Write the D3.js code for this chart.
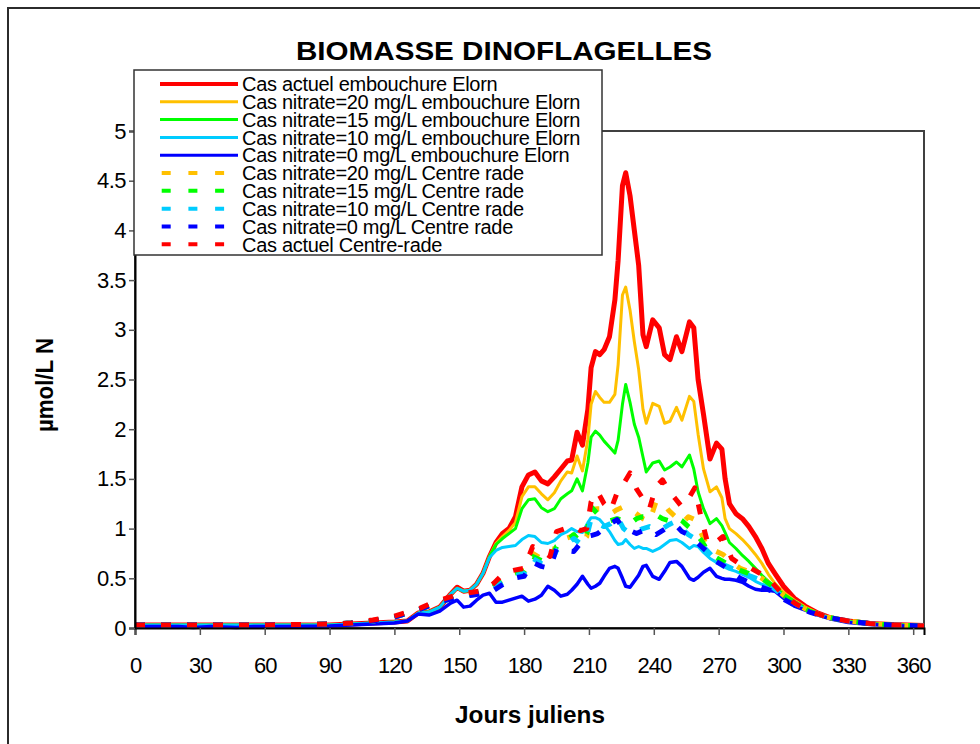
<!DOCTYPE html>
<html>
<head>
<meta charset="utf-8">
<script src="https://cdn.jsdelivr.net/npm/d3@7"></script>
<style>
    body { margin: 0; background: #ffffff; }
    svg { display: block; font-family: Arial, "Liberation Sans", sans-serif; }
</style>
</head>
<body>
<div id="chart-div"></div>
<script>
//---------------------------------//
// Data     //
//---------------------------------//

var days = [0, 20, 27, 35, 47, 55, 70, 90, 100, 110, 120, 126, 131, 136, 141, 146, 149, 152, 155, 158,
            161, 164, 167, 170, 173, 176, 179, 182, 185, 188, 191, 194, 197, 200, 202, 204.5, 207, 209.5, 211, 213,
            215, 217, 219.5, 222, 223.5, 225.5, 227, 229, 231, 233, 235, 236.5, 239.5, 242.5, 245, 247.5, 250.5, 253, 256.5, 258.5,
            260.5, 263, 266, 269, 271.5, 273, 275, 278, 281, 284, 287, 290, 293, 296, 300, 305, 310, 316, 322, 330,
            340, 350, 365];

var actuelElorn = [0.03, 0.03, 0.03, 0.03, 0.03, 0.03, 0.03, 0.03, 0.04, 0.05, 0.06, 0.07, 0.15, 0.16, 0.21, 0.34, 0.41, 0.37, 0.38, 0.44,
                   0.55, 0.72, 0.86, 0.95, 1.0, 1.12, 1.42, 1.54, 1.57, 1.48, 1.45, 1.52, 1.60, 1.68, 1.69, 1.97, 1.84, 2.2, 2.62, 2.78,
                   2.75, 2.80, 2.93, 3.30, 3.70, 4.45, 4.58, 4.35, 4.0, 3.65, 2.95, 2.83, 3.10, 3.02, 2.75, 2.70, 2.93, 2.78, 3.08, 3.02,
                   2.5, 2.15, 1.70, 1.86, 1.80, 1.50, 1.25, 1.15, 1.10, 1.02, 0.92, 0.80, 0.65, 0.55, 0.42, 0.30, 0.22, 0.15, 0.10, 0.07,
                   0.045, 0.035, 0.025];

var n20Elorn = [0.03, 0.03, 0.03, 0.03, 0.03, 0.03, 0.03, 0.03, 0.04, 0.05, 0.06, 0.07, 0.15, 0.16, 0.21, 0.34, 0.40, 0.37, 0.38, 0.44,
                0.55, 0.72, 0.85, 0.92, 0.98, 1.06, 1.32, 1.42, 1.42, 1.35, 1.29, 1.36, 1.48, 1.57, 1.56, 1.73, 1.58, 1.90, 2.25, 2.38,
                2.32, 2.27, 2.27, 2.35, 2.65, 3.35, 3.43, 3.2, 2.88, 2.6, 2.2, 2.06, 2.26, 2.23, 2.06, 2.08, 2.22, 2.09, 2.33, 2.28,
                1.95, 1.60, 1.37, 1.42, 1.31, 1.10, 1.0, 0.95, 0.89, 0.82, 0.74, 0.65, 0.54, 0.45, 0.36, 0.28, 0.21, 0.15, 0.10, 0.07,
                0.045, 0.035, 0.025];

var n15Elorn = [0.03, 0.03, 0.03, 0.03, 0.03, 0.03, 0.03, 0.03, 0.04, 0.05, 0.06, 0.07, 0.15, 0.16, 0.21, 0.34, 0.40, 0.37, 0.38, 0.44,
                0.55, 0.72, 0.84, 0.90, 0.95, 1.0, 1.20, 1.29, 1.30, 1.21, 1.17, 1.20, 1.30, 1.35, 1.38, 1.50, 1.38, 1.66, 1.92, 1.98,
                1.94, 1.88, 1.82, 1.76, 1.89, 2.25, 2.45, 2.27, 2.05, 1.92, 1.72, 1.57, 1.66, 1.68, 1.59, 1.62, 1.67, 1.62, 1.74, 1.60,
                1.37, 1.20, 1.05, 1.10, 1.03, 0.96, 0.86, 0.80, 0.73, 0.67, 0.60, 0.53, 0.47, 0.41, 0.34, 0.27, 0.20, 0.14, 0.10, 0.065,
                0.045, 0.035, 0.025];

var n10Elorn = [0.03, 0.03, 0.03, 0.03, 0.03, 0.03, 0.03, 0.03, 0.04, 0.05, 0.06, 0.07, 0.15, 0.16, 0.21, 0.34, 0.40, 0.37, 0.38, 0.44,
                0.55, 0.71, 0.78, 0.81, 0.82, 0.83, 0.89, 0.93, 0.92, 0.86, 0.85, 0.88, 0.94, 0.97, 1.0, 0.97, 0.96, 1.06, 1.11, 1.11,
                1.09, 1.04, 0.97, 0.88, 0.84, 0.85, 0.89, 0.84, 0.80, 0.82, 0.80, 0.80, 0.77, 0.80, 0.84, 0.88, 0.89, 0.86, 0.80, 0.83,
                0.82, 0.76, 0.70, 0.66, 0.62, 0.61, 0.59, 0.57, 0.54, 0.51, 0.47, 0.44, 0.42, 0.39, 0.32, 0.25, 0.19, 0.14, 0.095, 0.06,
                0.04, 0.03, 0.02];

var n0Elorn = [0.015, 0.015, 0.005, 0.015, 0.005, 0.015, 0.015, 0.02, 0.03, 0.04, 0.05, 0.07, 0.14, 0.13, 0.17, 0.25, 0.28, 0.21, 0.22, 0.28,
               0.33, 0.35, 0.26, 0.26, 0.28, 0.30, 0.32, 0.27, 0.29, 0.33, 0.42, 0.38, 0.32, 0.34, 0.38, 0.44, 0.52, 0.44, 0.40, 0.42,
               0.45, 0.52, 0.60, 0.62, 0.60, 0.50, 0.42, 0.41, 0.47, 0.53, 0.62, 0.63, 0.52, 0.49, 0.57, 0.66, 0.67, 0.62, 0.50, 0.48,
               0.51, 0.56, 0.60, 0.52, 0.50, 0.49, 0.49, 0.48, 0.46, 0.42, 0.39, 0.38, 0.38, 0.37, 0.30, 0.22, 0.18, 0.13, 0.09, 0.055,
               0.035, 0.025, 0.015];

var daysRade = [0, 15, 30, 45, 60, 75, 90, 100, 110, 115, 120, 126, 132, 138, 144, 150, 156, 162, 166, 171,
                175, 180, 184, 188, 192, 195, 199, 203, 206, 209, 211, 214, 217, 220, 223, 226, 229, 232, 235, 238,
                241, 244, 247, 250, 253, 256, 259, 262, 265, 268, 272, 276, 280, 285, 290, 295, 300, 306, 312, 320,
                330, 340, 350, 365];

var n20Rade = [0.03, 0.03, 0.03, 0.03, 0.03, 0.035, 0.04, 0.05, 0.07, 0.09, 0.11, 0.15, 0.19, 0.24, 0.29, 0.33, 0.35, 0.37, 0.42, 0.52,
               0.56, 0.58, 0.75, 0.70, 0.68, 0.85, 0.90, 0.93, 0.85, 0.92, 1.19, 1.20, 1.20, 1.15, 1.19, 1.22, 1.20, 1.15, 1.10, 1.07,
               1.27, 1.27, 1.18, 1.12, 1.05, 1.12, 1.09, 0.95, 0.80, 0.78, 0.74, 0.66, 0.60, 0.56, 0.50, 0.43, 0.33, 0.24, 0.17, 0.11,
               0.07, 0.045, 0.03, 0.02];

var n15Rade = [0.03, 0.03, 0.03, 0.03, 0.03, 0.035, 0.04, 0.05, 0.07, 0.09, 0.11, 0.15, 0.19, 0.24, 0.28, 0.32, 0.34, 0.36, 0.42, 0.50,
               0.55, 0.57, 0.72, 0.68, 0.66, 0.82, 0.87, 0.94, 0.86, 0.95, 1.22, 1.15, 1.10, 1.08, 1.10, 1.08, 1.05, 1.10, 1.12, 1.12,
               1.14, 1.10, 1.08, 1.12, 1.08, 1.02, 0.97, 0.88, 0.78, 0.72, 0.67, 0.62, 0.58, 0.54, 0.50, 0.42, 0.33, 0.24, 0.17, 0.11,
               0.07, 0.045, 0.03, 0.02];

var n10Rade = [0.03, 0.03, 0.03, 0.03, 0.03, 0.035, 0.04, 0.05, 0.07, 0.09, 0.11, 0.15, 0.19, 0.24, 0.28, 0.32, 0.34, 0.36, 0.40, 0.47,
               0.52, 0.55, 0.70, 0.65, 0.63, 0.78, 0.83, 0.90, 0.85, 0.92, 1.10, 1.05, 1.02, 1.05, 1.12, 1.00, 0.95, 0.97, 1.00, 1.02,
               0.98, 1.00, 1.04, 1.07, 1.00, 0.94, 0.90, 0.84, 0.77, 0.70, 0.64, 0.60, 0.56, 0.52, 0.48, 0.41, 0.32, 0.24, 0.17, 0.11,
               0.07, 0.045, 0.03, 0.02];

var n0Rade = [0.03, 0.03, 0.03, 0.03, 0.03, 0.035, 0.04, 0.05, 0.07, 0.09, 0.11, 0.15, 0.19, 0.24, 0.28, 0.31, 0.33, 0.35, 0.38, 0.45,
              0.50, 0.52, 0.66, 0.62, 0.60, 0.80, 0.78, 0.77, 0.85, 0.92, 0.93, 0.95, 1.00, 1.05, 1.09, 1.00, 0.98, 0.95, 0.98, 0.99,
              0.94, 0.98, 1.02, 1.04, 0.97, 0.94, 0.88, 0.82, 0.76, 0.68, 0.63, 0.56, 0.50, 0.45, 0.41, 0.37, 0.29, 0.22, 0.16, 0.11,
              0.07, 0.045, 0.03, 0.02];

var actuelRade = [0.03, 0.03, 0.03, 0.03, 0.03, 0.035, 0.04, 0.05, 0.08, 0.10, 0.12, 0.16, 0.20, 0.26, 0.30, 0.34, 0.36, 0.38, 0.45, 0.56,
                  0.58, 0.60, 0.82, 0.78, 0.72, 0.97, 1.0, 1.02, 0.98, 1.0, 1.27, 1.37, 1.25, 1.18, 1.36, 1.45, 1.56, 1.40, 1.30, 1.20,
                  1.42, 1.49, 1.38, 1.30, 1.22, 1.30, 1.41, 1.10, 0.85, 0.85, 0.92, 0.70, 0.64, 0.60, 0.54, 0.45, 0.33, 0.24, 0.17, 0.11,
                  0.07, 0.045, 0.03, 0.02];

var seriesNames = ['Cas actuel embouchure Elorn',
                   'Cas nitrate=20 mg/L embouchure Elorn',
                   'Cas nitrate=15 mg/L embouchure Elorn',
                   'Cas nitrate=10 mg/L embouchure Elorn',
                   'Cas nitrate=0 mg/L embouchure Elorn',
                   'Cas nitrate=20 mg/L Centre rade',
                   'Cas nitrate=15 mg/L Centre rade',
                   'Cas nitrate=10 mg/L Centre rade',
                   'Cas nitrate=0 mg/L Centre rade',
                   'Cas actuel Centre-rade'];

var seriesValues = [actuelElorn, n20Elorn, n15Elorn, n10Elorn, n0Elorn,
                    n20Rade, n15Rade, n10Rade, n0Rade, actuelRade];

var xTicks = [0, 30, 60, 90, 120, 150, 180, 210, 240, 270, 300, 330, 360];
var yTicks = [0, 0.5, 1, 1.5, 2, 2.5, 3, 3.5, 4, 4.5, 5];

//---------------------------------//
// Chart object                    //
//---------------------------------//

window.Chart = window.Chart || {};

Chart.init = function() {
    Chart.setup.initConsts();
    Chart.setup.initSvg();
    Chart.setup.initScales();

    Chart.core.drawFrame();
    Chart.core.drawSeries();
    Chart.core.drawAxes();
    Chart.core.drawLegend();
    Chart.core.drawTitles();
};

Chart.setup = {
    initConsts: function() {
        Chart.width = 980;
        Chart.height = 744;

        Chart.plot = {left: 135, right: 924, top: 131, bottom: 628};    //Plot area box

        Chart.colors = ['#ff0000', '#ffc000', '#00ff00', '#00ccff', '#0000ff',
                        '#ffc000', '#00ff00', '#00ccff', '#0000ff', '#ff0000'];
        Chart.widths = [5, 3, 3, 3, 3.5, 5, 5, 5, 5, 5];
        Chart.dashed = [false, false, false, false, false, true, true, true, true, true];

        Chart.tickFont = 22;
        Chart.legendFont = 20;
    },

    initSvg: function() {
        Chart.svg = d3.select('#chart-div')
                      .append('svg')
                        .attr('width', Chart.width)
                        .attr('height', Chart.height);
    },

    initScales: function() {
        Chart.x = d3.scaleLinear()                      //Julian days
                    .domain([0, 365])
                    .range([Chart.plot.left, Chart.plot.right]);
        Chart.y = d3.scaleLinear()                      //umol/L N
                    .domain([0, 5])
                    .range([Chart.plot.bottom, Chart.plot.top]);
    }
};

Chart.core = {
    drawFrame: function() {
        // outer chart border (runs off the right and bottom of the picture)
        Chart.svg.append('path')
            .attr('d', 'M8,' + Chart.height + 'V8H' + Chart.width)
            .attr('fill', 'none')
            .attr('stroke', '#2b2b2b')
            .attr('stroke-width', 2);

        // plot area border
        Chart.svg.append('rect')
            .attr('x', Chart.plot.left).attr('y', Chart.plot.top)
            .attr('width', Chart.plot.right - Chart.plot.left)
            .attr('height', Chart.plot.bottom - Chart.plot.top)
            .attr('fill', 'none')
            .attr('stroke', '#404040')
            .attr('stroke-width', 2);
    },

    drawSeries: function() {
        var g = Chart.svg.append('g');

        seriesValues.forEach(function(vals, i) {
            var xs = Chart.dashed[i] ? daysRade : days;
            var line = d3.line()
                .x(function(d, j) { return Chart.x(xs[j]); })
                .y(function(d) { return Chart.y(d); });

            var path = g.append('path')
                .datum(vals)
                .attr('d', line)
                .attr('fill', 'none')
                .attr('stroke', Chart.colors[i])
                .attr('stroke-width', Chart.widths[i])
                .attr('stroke-linejoin', 'round');

            if (Chart.dashed[i]) {
                path.attr('stroke-dasharray', '10,16');
            }
        });
    },

    drawAxes: function() {
        var xAxis = d3.axisBottom(Chart.x)
            .tickValues(xTicks)
            .tickSize(7)
            .tickPadding(22)
            .tickFormat(d3.format('d'));
        var yAxis = d3.axisLeft(Chart.y)
            .tickValues(yTicks)
            .tickSize(6)
            .tickPadding(3)
            .tickFormat(function(d) { return String(d); });

        var gx = Chart.svg.append('g')
            .attr('transform', 'translate(0,' + Chart.plot.bottom + ')')
            .call(xAxis);
        var gy = Chart.svg.append('g')
            .attr('transform', 'translate(' + Chart.plot.left + ',0)')
            .call(yAxis);

        [gx, gy].forEach(function(g) {
            g.select('.domain').attr('stroke', '#000').attr('stroke-width', 2);
            g.selectAll('.tick line').attr('stroke', '#555').attr('stroke-width', 1.5);
            g.selectAll('.tick text')
                .attr('fill', '#000')
                .style('font-family', 'Arial, "Liberation Sans", sans-serif')
                .style('font-size', Chart.tickFont + 'px');
        });
        gx.selectAll('.tick text').attr('letter-spacing', '-1px');
        gy.selectAll('.tick text').attr('letter-spacing', '-0.5px');
    },

    drawLegend: function() {
        var box = {x: 134, y: 70, w: 468, h: 185};
        var rowY = d3.scaleLinear().domain([0, 9]).range([84, 244.3]);   //Legend rows

        var g = Chart.svg.append('g');
        g.append('rect')
            .attr('x', box.x).attr('y', box.y)
            .attr('width', box.w).attr('height', box.h)
            .attr('fill', '#ffffff')
            .attr('stroke', '#333')
            .attr('stroke-width', 1.5);

        seriesNames.forEach(function(name, i) {
            var yy = rowY(i);
            if (Chart.dashed[i]) {
                g.append('line')
                    .attr('x1', 161.7).attr('x2', 225)
                    .attr('y1', yy).attr('y2', yy)
                    .attr('stroke', Chart.colors[i])
                    .attr('stroke-width', 4)
                    .attr('stroke-dasharray', '9,17.7');
            } else {
                g.append('line')
                    .attr('x1', 160).attr('x2', 238)
                    .attr('y1', yy).attr('y2', yy)
                    .attr('stroke', Chart.colors[i])
                    .attr('stroke-width', i === 0 ? 4 : 3);
            }
            g.append('text')
                .attr('x', 242)
                .attr('y', yy)
                .attr('dy', '0.36em')
                .style('font-size', Chart.legendFont + 'px')
                .attr('letter-spacing', '-0.3px')
                .text(name);
        });
    },

    drawTitles: function() {
        Chart.svg.append('text')                            //Main title
            .attr('x', 504).attr('y', 60)
            .attr('text-anchor', 'middle')
            .attr('textLength', 416)
            .attr('lengthAdjust', 'spacingAndGlyphs')
            .style('font-size', '26px')
            .style('font-weight', 'bold')
            .text('BIOMASSE DINOFLAGELLES');

        Chart.svg.append('text')                            //x axis title
            .attr('x', 530).attr('y', 723)
            .attr('text-anchor', 'middle')
            .attr('textLength', 150)
            .attr('lengthAdjust', 'spacingAndGlyphs')
            .style('font-size', '23px')
            .style('font-weight', 'bold')
            .text('Jours juliens');

        Chart.svg.append('text')                            //y axis title
            .attr('transform', 'translate(53,385) rotate(-90)')
            .attr('text-anchor', 'middle')
            .attr('textLength', 94)
            .attr('lengthAdjust', 'spacingAndGlyphs')
            .style('font-size', '23px')
            .style('font-weight', 'bold')
            .text('\u00b5mol/L N');
    }
};

document.addEventListener('DOMContentLoaded', Chart.init);
</script>
</body>
</html>
